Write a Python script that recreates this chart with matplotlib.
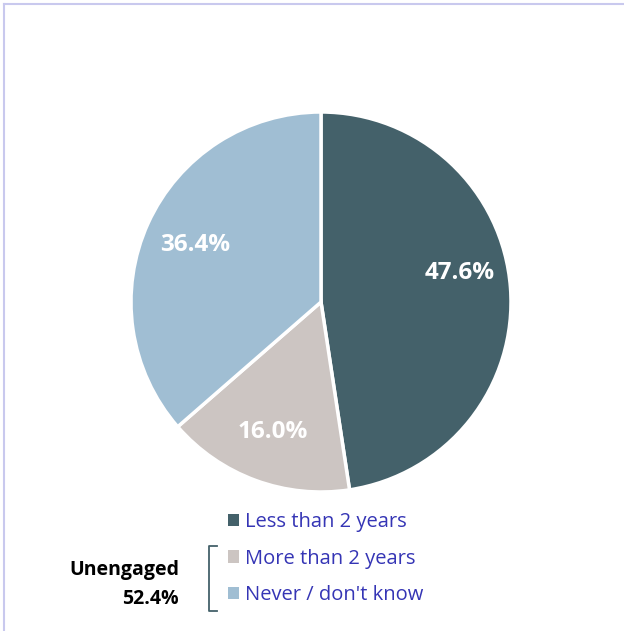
import matplotlib
matplotlib.use("Agg")
import matplotlib.pyplot as plt
from matplotlib.lines import Line2D

categories = ["Less than 2 years", "More than 2 years", "Never / don't know"]
shares = [47.6, 16.0, 36.4]
colors = ["#44616A", "#CCC5C2", "#A0BED3"]
unengaged_label = "Unengaged\n52.4%"

plt.rcParams['font.family'] = ['Open Sans', 'DejaVu Sans']

W, H = 624, 631
fig = plt.figure(figsize=(W / 100, H / 100), dpi=100)

# light frame on the top and left edges
fig.add_artist(Line2D([4 / W, 4 / W], [0, 1 - 4 / H], color="#C9C9EE", lw=1.5))
fig.add_artist(Line2D([4 / W, 1], [1 - 4 / H, 1 - 4 / H], color="#C9C9EE", lw=1.5))

# pie axes, centre around (321, 302) px, radius ~189 px
cx, cy, r = 321, 302, 190
ax = fig.add_axes([(cx - r) / W, 1 - (cy + r) / H, 2 * r / W, 2 * r / H])
wedges, texts, autotexts = ax.pie(
    shares, colors=colors, startangle=90, counterclock=False,
    autopct="%.1f%%", pctdistance=0.73,
    wedgeprops=dict(edgecolor="white", linewidth=2.5),
    textprops=dict(color="white", fontsize=17.5, fontweight="bold"))
ax.set_xlim(-1.0, 1.0)
ax.set_ylim(-1.0, 1.0)
ax.set_aspect("equal")
# nudge the biggest label up a little like the original
x0, y0 = autotexts[0].get_position()
autotexts[0].set_position((x0, y0 + 0.1))

leg = fig.legend(wedges, categories, loc="upper left",
                 bbox_to_anchor=(210 / W, 1 - 494 / H), frameon=False,
                 handlelength=0.55, handleheight=0.55, handletextpad=0.3,
                 labelspacing=0.82, fontsize=14.5, labelcolor="#3535B5")
for h in leg.legend_handles:
    h.set_edgecolor("none")

# bracket for the unengaged group
bx = 209
fig.add_artist(Line2D([(bx + 8) / W, bx / W, bx / W, (bx + 8) / W],
                      [1 - 546 / H, 1 - 546 / H, 1 - 611 / H, 1 - 611 / H],
                      color="#44616A", lw=1.3))
fig.text(179 / W, 1 - 584 / H, unengaged_label, ha="right", va="center",
         fontsize=14, fontweight="bold", color="black", linespacing=1.6)

fig.savefig("out.png", dpi=100)
